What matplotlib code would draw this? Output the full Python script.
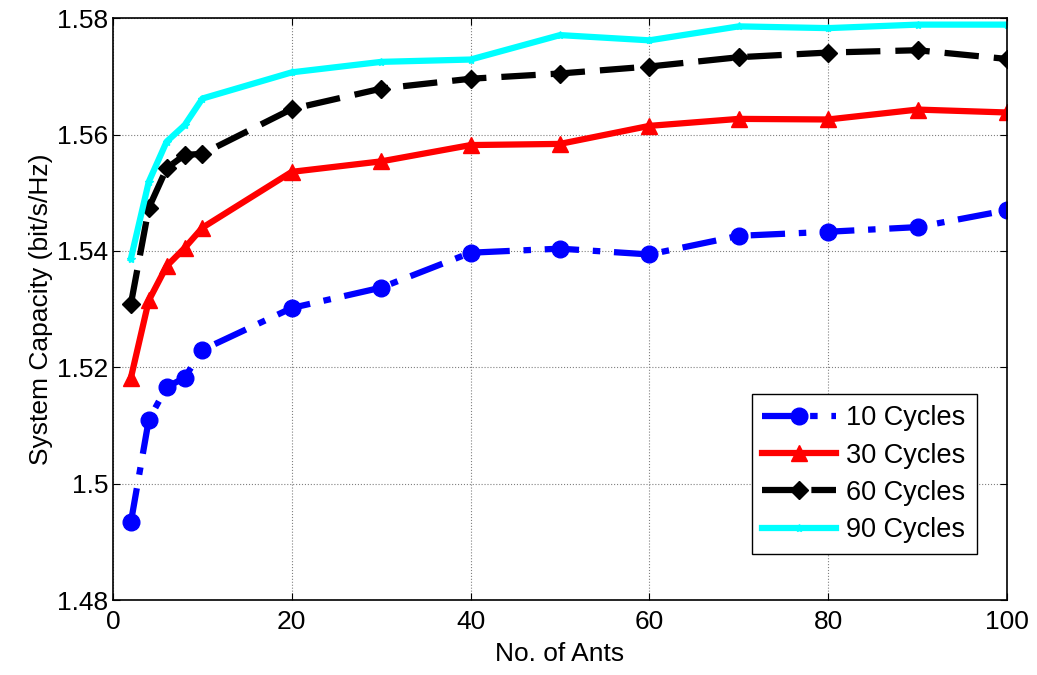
import matplotlib
matplotlib.use('Agg')
import matplotlib.pyplot as plt

plt.rcParams['font.family'] = ['Liberation Sans', 'DejaVu Sans']

ants = [2, 4, 6, 8, 10, 20, 30, 40, 50, 60, 70, 80, 90, 100]

cap_10 = [1.4934, 1.5110, 1.5166, 1.5182, 1.5230, 1.5302, 1.5337,
          1.5397, 1.5404, 1.5394, 1.5426, 1.5433, 1.5441, 1.5470]
cap_30 = [1.5182, 1.5315, 1.5374, 1.5405, 1.5440, 1.5536, 1.5554,
          1.5582, 1.5584, 1.5615, 1.5627, 1.5626, 1.5643, 1.5638]
cap_60 = [1.5309, 1.5474, 1.5542, 1.5565, 1.5567, 1.5644, 1.5679,
          1.5696, 1.5705, 1.5717, 1.5733, 1.5741, 1.5745, 1.5730]
cap_90 = [1.5387, 1.5519, 1.5588, 1.5616, 1.5662, 1.5707, 1.5725,
          1.5729, 1.5771, 1.5762, 1.5786, 1.5783, 1.5789, 1.5789]

labels = ['10 Cycles', '30 Cycles', '60 Cycles', '90 Cycles']

fig = plt.figure(figsize=(10.37, 6.75), dpi=100)
ax = fig.add_axes([0.109, 0.111, 0.862, 0.862])

lw = 4.5
ax.plot(ants, cap_10, color='#0000ff', linewidth=lw, dashes=(5.5, 2.2, 1.2, 2.2),
        marker='o', markersize=12, label=labels[0])
ax.plot(ants, cap_30, '-', color='#ff0000', linewidth=lw, marker='^', markersize=12, label=labels[1])
ax.plot(ants, cap_60, color='black', linewidth=lw, dashes=(5.5, 2.4),
        marker='D', markersize=9, label=labels[2])
ax.plot(ants, cap_90, '-', color='#00ffff', linewidth=lw, marker='*', markersize=6, label=labels[3])

ax.set_xlim(0, 100)
ax.set_ylim(1.48, 1.58)
ax.set_xticks([0, 20, 40, 60, 80, 100])
ax.set_yticks([1.48, 1.5, 1.52, 1.54, 1.56, 1.58])
ax.set_yticklabels(['1.48', '1.5', '1.52', '1.54', '1.56', '1.58'])
ax.tick_params(direction='in', labelsize=19, length=5, top=True, right=True)
ax.tick_params(axis='x', pad=7)
ax.grid(True, color='#808080', linestyle=':', linewidth=0.8)
for s in ax.spines.values():
    s.set_linewidth(1.2)

ax.set_xlabel('No. of Ants', fontsize=19, labelpad=6)
ax.set_ylabel('System Capacity (bit/s/Hz)', fontsize=19, labelpad=3)

leg = ax.legend(loc='lower right', bbox_to_anchor=(0.966, 0.079), fontsize=19.5,
                fancybox=False, edgecolor='black', framealpha=1, borderaxespad=0,
                handlelength=2.7, borderpad=0.4, labelspacing=0.42, handletextpad=0.4)
leg.get_frame().set_linewidth(1.0)

fig.savefig('out.png', dpi=100)
